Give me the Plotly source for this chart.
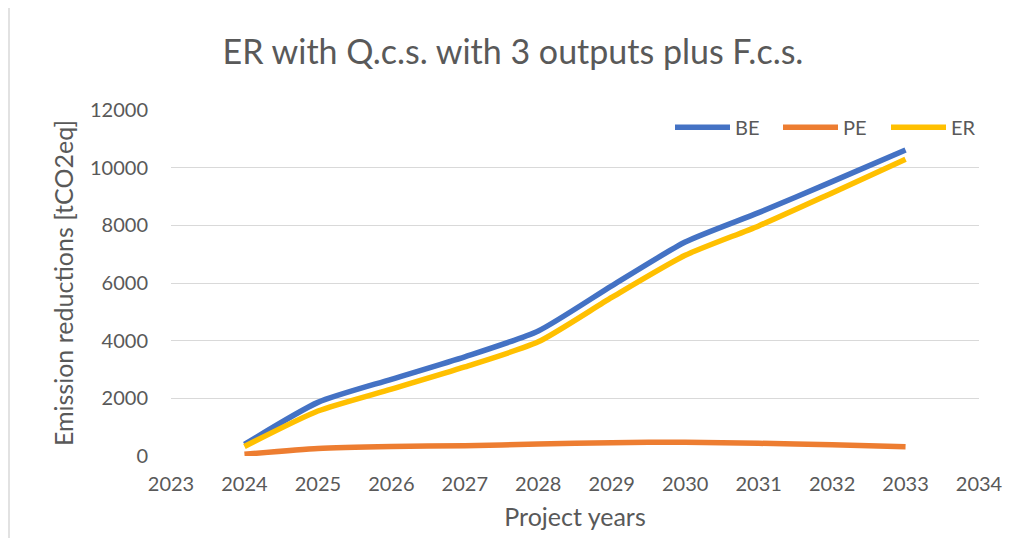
import plotly.graph_objects as go

years = [2024, 2025, 2026, 2027, 2028, 2029, 2030, 2031, 2032, 2033]
be = [400, 1860, 2660, 3440, 4335, 5900, 7420, 8440, 9515, 10615]
pe = [60, 260, 330, 357, 416, 462, 480, 440, 392, 323]
er = [330, 1560, 2320, 3090, 3960, 5500, 6960, 7980, 9125, 10290]

x_ticks = list(range(2023, 2035))
y_ticks = list(range(0, 12001, 2000))

font_fam = "Lato, 'Open Sans', sans-serif"
grey = "#595959"

# page body has an 8px margin; figure pixel = screen pixel - 8
L, T, PW, PH = 163, 102, 808, 346

fig = go.Figure()
for name, vals, col in [("BE", be, "#4472C4"), ("PE", pe, "#ED7D31"), ("ER", er, "#FFC000")]:
    fig.add_trace(go.Scatter(x=years, y=vals, name=name, mode="lines",
                             line=dict(color=col, width=5.5, shape="spline", smoothing=0.6)))

fig.update_layout(
    width=1011, height=538,
    paper_bgcolor="white", plot_bgcolor="white",
    margin=dict(l=L, r=1011 - L - PW, t=T, b=538 - T - PH),
    title=dict(text="ER with Q.c.s. with 3 outputs plus F.c.s.", x=505 / 1011, xanchor="center",
               y=1 - 44 / 538, yanchor="middle",
               font=dict(family=font_fam, size=34, color=grey)),
    font=dict(family=font_fam, color=grey),
    legend=dict(orientation="h", x=(670 - 8 - L) / PW, xanchor="left", y=0.95, yanchor="middle",
                font=dict(size=20, color=grey), bgcolor="rgba(0,0,0,0)",
                itemwidth=55, entrywidth=38, entrywidthmode="pixels", tracegroupgap=0),
    showlegend=True,
)
fig.update_xaxes(range=[2023, 2034], tickvals=x_ticks, ticktext=[str(v) for v in x_ticks],
                 showgrid=False, zeroline=False, showline=False,
                 tickfont=dict(size=20, color=grey), ticklabelstandoff=14,
                 title=dict(text="Project years", font=dict(size=25, color=grey), standoff=14))
fig.update_yaxes(range=[0, 12000], tickvals=y_ticks, ticktext=[str(v) for v in y_ticks],
                 showgrid=True, gridcolor="#D9D9D9", gridwidth=1.3, zeroline=False, showline=False,
                 tickfont=dict(size=20, color=grey), ticklabelstandoff=22,
                 title=dict(text="Emission reductions [tCO2eq]", font=dict(size=25, color=grey), standoff=9))
fig.add_shape(type="line", xref="paper", yref="paper",
              x0=(1 - L) / PW, x1=(1 - L) / PW, y0=-0.3, y1=1.4,
              line=dict(color="#D9D9D9", width=1.5))

fig.write_html("out.html")
